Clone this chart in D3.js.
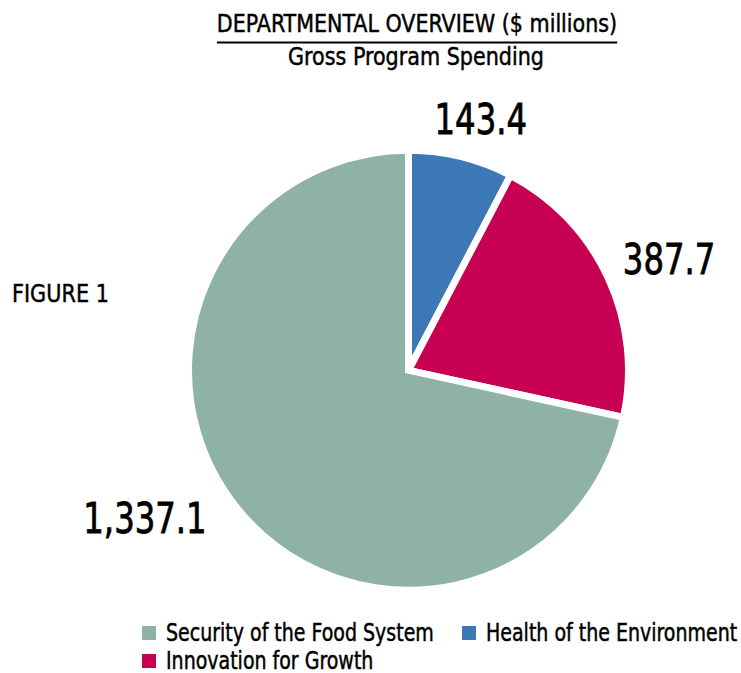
<!DOCTYPE html>
<html>
<head>
<meta charset="utf-8">
<script src="https://cdn.jsdelivr.net/npm/d3@7"></script>
<style>
  html, body { margin: 0; padding: 0; background: #ffffff; }
  svg { display: block; }
  text { font-family: "Liberation Sans Narrow", "Arial Narrow", "DejaVu Sans Condensed", sans-serif; fill: #000; stroke: #000; }
</style>
</head>
<body>
<svg id="chart" width="741" height="673"></svg>
<script>
// ---- data ----
const title = "DEPARTMENTAL OVERVIEW ($ millions)";
const subtitle = "Gross Program Spending";
const figureLabel = "FIGURE 1";
const categories = ["Health of the Environment", "Innovation for Growth", "Security of the Food System"];
const values = [143.4, 387.7, 1337.1];
const valueLabels = ["143.4", "387.7", "1,337.1"];
const colors = ["#3C78B5", "#C70053", "#8FB2A7"];
const legendOrder = ["Security of the Food System", "Health of the Environment", "Innovation for Growth"];

// ---- layout ----
const svg = d3.select("#chart");
const W = 741, H = 673;
const cx = 408.5, cy = 370.3, R = 220;

// horizontally condensed text helper
function condensed(parent, x, y, str, size, k, anchor, sw) {
  return parent.append("text")
    .attr("transform", `translate(${x},${y}) scale(${k},1)`)
    .attr("text-anchor", anchor || "start")
    .style("font-size", size + "px")
    .style("stroke-width", sw)
    .text(str);
}

// Titles
const t1 = condensed(svg, 417, 32, title, 24, 0.957, "middle", 0.45);
const tw1 = t1.node().getBBox().width * 0.957;
svg.append("line")
  .attr("x1", 417 - tw1 / 2).attr("x2", 417 + tw1 / 2)
  .attr("y1", 42.5).attr("y2", 42.5)
  .attr("stroke", "#000").attr("stroke-width", 1.8);

condensed(svg, 416, 65, subtitle, 24, 0.959, "middle", 0.45);
condensed(svg, 12, 302, figureLabel, 25, 0.925, "start", 0.45);

// Pie
const data = categories.map((c, i) => ({ cat: c, value: values[i], label: valueLabels[i], color: colors[i] }));
const pie = d3.pie().sort(null).value(d => d.value).startAngle(0).endAngle(2 * Math.PI);
const arcs = pie(data);
const arc = d3.arc().innerRadius(0).outerRadius(R);

const g = svg.append("g").attr("transform", `translate(${cx},${cy})`);
g.selectAll("path.slice")
  .data(arcs)
  .join("path")
  .attr("class", "slice")
  .attr("d", arc)
  .attr("fill", d => d.data.color)
  .attr("stroke", "#fff")
  .attr("stroke-width", 7)
  .attr("stroke-linejoin", "miter");

// Value labels: placed relative to each slice's mid-angle
const labelTweak = [ { dr: 42, da: 2.2 }, { dr: 63.5, da: 1.8 }, { dr: 82, da: 9.6 } ];
const numSize = 43, numK = 0.835;
arcs.forEach((d, i) => {
  const a = (d.startAngle + d.endAngle) / 2 + labelTweak[i].da * Math.PI / 180;
  const r = R + labelTweak[i].dr;
  condensed(g, r * Math.sin(a), -r * Math.cos(a) + numSize * 0.364, d.data.label, numSize, numK, "middle", 0.8);
});

// Legend (flow layout)
const colorOf = c => colors[categories.indexOf(c)];
const legend = svg.append("g");
const legK = 0.88, legSize = 24;
let lx = 142, ly = 641;
const sw = 14, gapText = 10, gapItem = 28, rowH = 28, maxX = W;
legendOrder.forEach(c => {
  const item = legend.append("g");
  const txt = item.append("text").style("font-size", legSize + "px").style("stroke-width", 0.45).text(c);
  const tw = txt.node().getComputedTextLength() * legK;
  const itemW = sw + gapText + tw;
  if (lx + itemW > maxX && lx > 142) { lx = 142; ly += rowH; }
  item.append("rect")
    .attr("x", lx).attr("y", ly - 15)
    .attr("width", sw).attr("height", sw)
    .attr("fill", colorOf(c));
  txt.attr("transform", `translate(${lx + sw + gapText},${ly}) scale(${legK},1)`);
  lx += itemW + gapItem;
});
</script>
</body>
</html>
